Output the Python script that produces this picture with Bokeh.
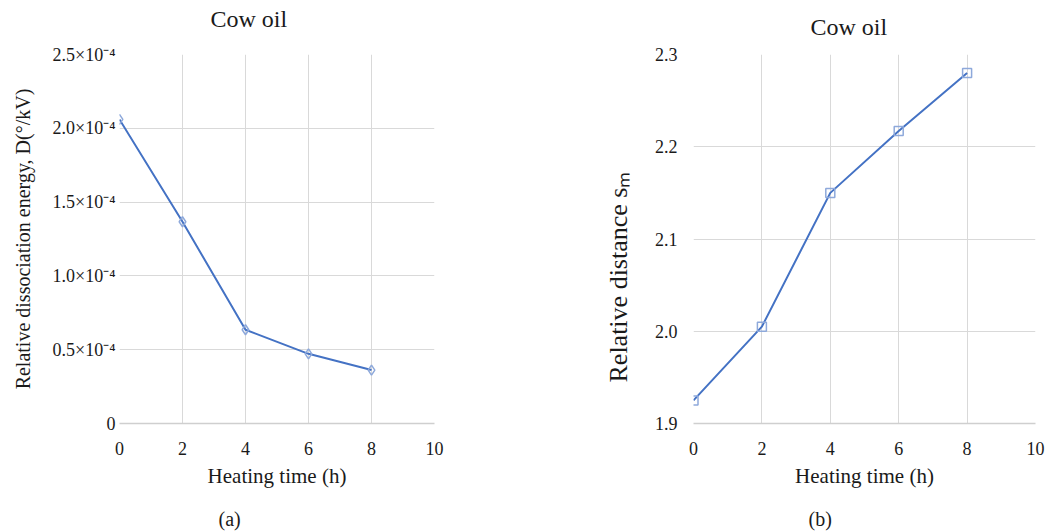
from bokeh.plotting import figure
from bokeh.layouts import row
from bokeh.models import (FixedTicker, CustomJSTickFormatter, PrintfTickFormatter,
                          Range1d, Title, LinearAxis)
from bokeh.embed import file_html
from bokeh.resources import INLINE

# ---------------- data ----------------
heating_time = [0, 2, 4, 6, 8]
dissociation_energy = [2.06e-4, 1.367e-4, 0.635e-4, 0.472e-4, 0.362e-4]
relative_distance = [1.925, 2.005, 2.150, 2.217, 2.280]

x_ticks = [0, 2, 4, 6, 8, 10]
yA_ticks = [0, 0.5e-4, 1.0e-4, 1.5e-4, 2.0e-4, 2.5e-4]
yB_ticks = [1.9, 2.0, 2.1, 2.2, 2.3]

title_text = "Cow oil"
x_label = "Heating time (h)"
yA_label = "Relative dissociation energy, D(\u00b0/kV)"
yB_label = "Relative distance s\u2098"
captions = ["(a)", "(b)"]

# ---------------- style ----------------
FONT = "Liberation Serif"
LINE = "#4472C4"
MARK = "#8EA9DB"
GRID = "#D9D9D9"
TXT = "#1a1a1a"

H = 532
FR_TOP, FR_H = 54, 369


def base_fig(width, bl, fw, xr, yr):
    p = figure(width=width, height=H, output_backend="svg",
               toolbar_location=None, x_range=xr, y_range=yr,
               min_border_left=bl, min_border_right=width - bl - fw,
               min_border_top=FR_TOP, min_border_bottom=H - FR_TOP - FR_H)
    p.outline_line_color = None
    p.background_fill_color = "white"
    p.border_fill_color = "white"
    for g in (p.xgrid[0], p.ygrid[0]):
        g.grid_line_color = GRID
        g.grid_line_width = 1
    for ax in (p.xaxis[0], p.yaxis[0]):
        ax.major_tick_line_color = None
        ax.minor_tick_line_color = None
        ax.major_tick_out = 0
        ax.major_label_text_font = FONT
        ax.major_label_text_font_size = "18px"
        ax.major_label_text_color = TXT
        ax.axis_label_text_font = FONT
        ax.axis_label_text_font_style = "normal"
        ax.axis_label_text_color = TXT
    p.xaxis[0].axis_line_color = "#CFCFCF"
    p.xaxis[0].axis_line_width = 1.5
    p.yaxis[0].axis_line_color = None
    p.xaxis[0].ticker = FixedTicker(ticks=x_ticks)
    p.xgrid[0].ticker = FixedTicker(ticks=x_ticks)
    p.xaxis[0].major_label_standoff = 18
    p.xaxis[0].axis_label = x_label
    p.xaxis[0].axis_label_text_font_size = "21px"
    p.xaxis[0].axis_label_standoff = 6
    return p


def spacer(p, loc, px, at):
    # blank axis (white tick, empty label) that only reserves space between panels
    ax = LinearAxis(ticker=FixedTicker(ticks=[at]), major_tick_out=px, major_tick_in=0,
                    major_tick_line_color="white", minor_tick_line_color=None,
                    axis_line_color=None, major_label_standoff=0,
                    major_label_text_font_size="1px",
                    formatter=CustomJSTickFormatter(code="return ''"))
    p.add_layout(ax, loc)


def title(p, text, loc, size, align="left", offset=0, standoff=0):
    p.add_layout(Title(text=text, text_font=FONT, text_font_size=size,
                       text_font_style="normal", text_color=TXT,
                       align=align, offset=offset, standoff=standoff), loc)


# ---------------- panel (a) ----------------
WA = 524
pA = base_fig(WA, 119, 315, Range1d(0, 10), Range1d(0, 2.5e-4))
pA.ygrid[0].ticker = FixedTicker(ticks=yA_ticks)
pA.yaxis[0].ticker = FixedTicker(ticks=yA_ticks)
pA.yaxis[0].formatter = CustomJSTickFormatter(code="""
    if (Math.abs(tick) < 1e-12) { return "0"; }
    return (tick * 1e4).toFixed(1) + "\\u00d710\\u207b\\u2074";
""")
pA.yaxis[0].major_label_standoff = 4
pA.line(heating_time, dissociation_energy, line_color=LINE, line_width=2)
pA.scatter(heating_time, dissociation_energy, marker="diamond", size=10,
           fill_color=None, line_color=MARK, line_width=1.5)
spacer(pA, "above", 23, 5)
title(pA, title_text, "above", "24px", offset=91)
spacer(pA, "left", 16, 1.2e-4)
title(pA, yA_label, "left", "20px", align="center")
spacer(pA, "below", 15, 5)
title(pA, captions[0], "below", "20px", offset=99)

# ---------------- panel (b) ----------------
WB = 524
pB = base_fig(WB, 169, 342, Range1d(0, 10), Range1d(1.9, 2.3))
pB.ygrid[0].ticker = FixedTicker(ticks=yB_ticks)
pB.yaxis[0].ticker = FixedTicker(ticks=yB_ticks)
pB.yaxis[0].formatter = PrintfTickFormatter(format="%.1f")
pB.yaxis[0].major_label_standoff = 16
pB.line(heating_time, relative_distance, line_color=LINE, line_width=2)
pB.scatter(heating_time, relative_distance, marker="square", size=9,
           fill_color=None, line_color=MARK, line_width=1.5)
spacer(pB, "above", 15, 5)
title(pB, title_text, "above", "24px", offset=117)
spacer(pB, "left", 19, 2.1)
title(pB, yB_label, "left", "26px", offset=41)
spacer(pB, "below", 15, 5)
title(pB, captions[1], "below", "20px", offset=115)

layout = row(pA, pB)
open("out.html", "w").write(file_html(layout, INLINE))
